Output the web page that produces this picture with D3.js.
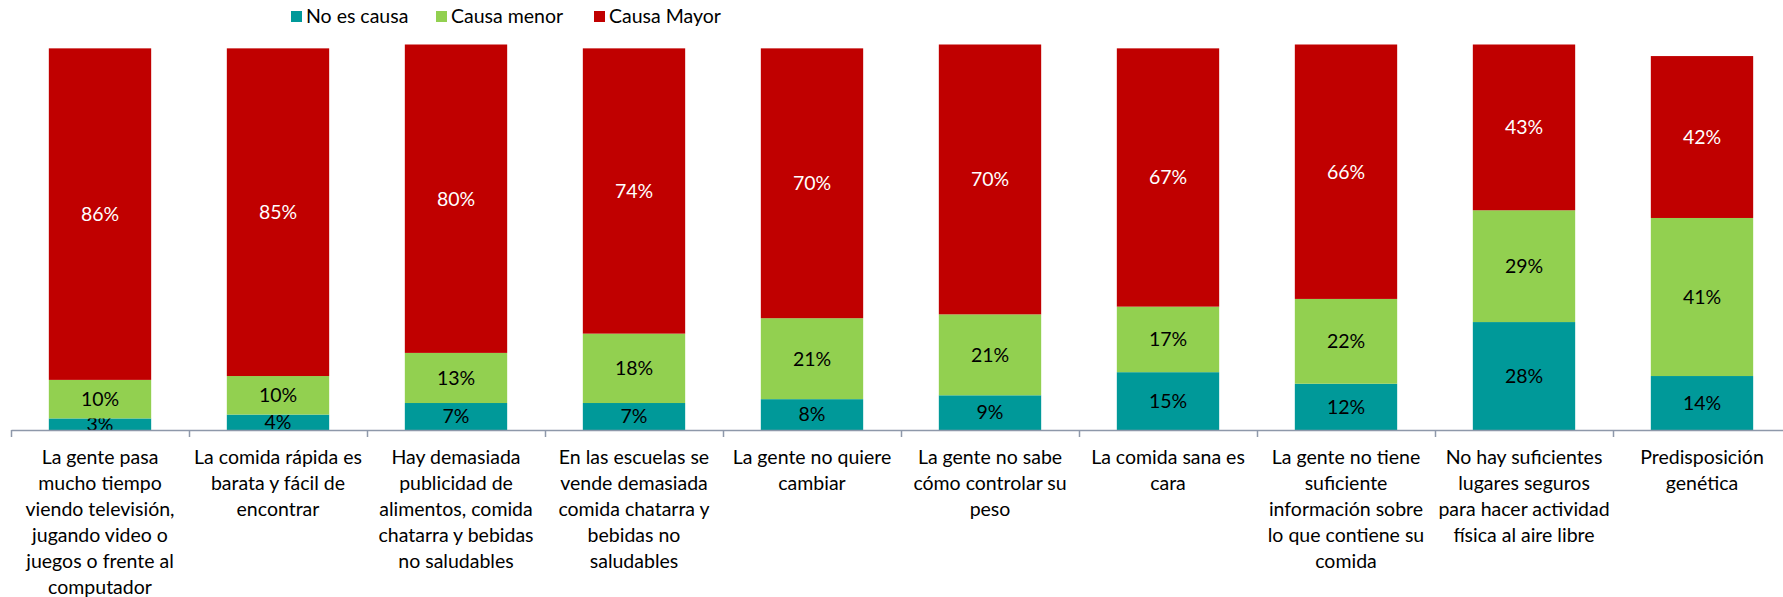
<!DOCTYPE html>
<html>
<head>
<meta charset="utf-8">
<script src="https://cdn.jsdelivr.net/npm/d3@7"></script>
<style>
  body { margin: 0; background: #fff; }
  svg { display: block; font-family: Lato, "Open Sans", sans-serif; }
</style>
</head>
<body>
<svg id="chart" width="1783" height="597"></svg>
<script>
// categories, line breaks as in the original labels
var categories = [
    "La gente pasa\nmucho tiempo\nviendo televisión,\njugando video o\njuegos o frente al\ncomputador",
    "La comida rápida es\nbarata y fácil de\nencontrar",
    "Hay demasiada\npublicidad de\nalimentos, comida\nchatarra y bebidas\nno saludables",
    "En las escuelas se\nvende demasiada\ncomida chatarra y\nbebidas no\nsaludables",
    "La gente no quiere\ncambiar",
    "La gente no sabe\ncómo controlar su\npeso",
    "La comida sana es\ncara",
    "La gente no tiene\nsuficiente\ninformación sobre\nlo que contiene su\ncomida",
    "No hay suficientes\nlugares seguros\npara hacer actividad\nfísica al aire libre",
    "Predisposición\ngenética"
];

var seriesNames = ["No es causa", "Causa menor", "Causa Mayor"];
var noEsCausa   = [3, 4, 7, 7, 8, 9, 15, 12, 28, 14];
var causaMenor  = [10, 10, 13, 18, 21, 21, 17, 22, 29, 41];
var causaMayor  = [86, 85, 80, 74, 70, 70, 67, 66, 43, 42];

var colors = ["#009999", "#92d050", "#c00000"];
var labelColors = ["#000", "#000", "#fff"];

var rows = categories.map(function(c, i) {
    return { cat: c, s0: noEsCausa[i], s1: causaMenor[i], s2: causaMayor[i] };
});

var svg = d3.select("#chart");

var left = 11, step = 178, n = categories.length;
var baseY = 430, topY = 44.5;

var x = d3.scaleBand()
    .domain(d3.range(n))
    .range([left, left + step * n])
    .paddingInner(0.425)
    .paddingOuter(0.2125);

var y = d3.scaleLinear().domain([0, 100]).range([baseY, topY]);

var stack = d3.stack().keys(["s0", "s1", "s2"]);
var layers = stack(rows);

var g = svg.append("g");

layers.forEach(function(layer, k) {
    var lg = g.append("g");
    lg.selectAll("rect")
        .data(layer)
        .enter().append("rect")
        .attr("x", function(d, i) { return x(i); })
        .attr("y", function(d) { return y(d[1]); })
        .attr("width", x.bandwidth())
        .attr("height", function(d) { return y(d[0]) - y(d[1]); })
        .attr("fill", colors[k]);

    lg.selectAll("text")
        .data(layer)
        .enter().append("text")
        .attr("x", function(d, i) { return x(i) + x.bandwidth() / 2; })
        .attr("y", function(d) { return (y(d[0]) + y(d[1])) / 2; })
        .attr("dy", "0.35em")
        .attr("text-anchor", "middle")
        .attr("font-size", 19.5)
        .attr("fill", labelColors[k])
        .text(function(d) { return (d[1] - d[0]) + "%"; });
});

// category axis, ticks between categories
var xb = d3.scaleLinear().domain([0, n]).range([left, left + step * n]);
var axis = svg.append("g")
    .attr("transform", "translate(0," + baseY + ")")
    .call(d3.axisBottom(xb).ticks(n).tickSize(7).tickSizeOuter(0).tickFormat(""));
axis.selectAll("path, line").attr("stroke", "#8e98aa").attr("stroke-width", 1.5);

// multi-line category labels
var labels = svg.append("g");
categories.forEach(function(c, i) {
    var t = labels.append("text")
        .attr("text-anchor", "middle")
        .attr("font-size", 19.5)
        .attr("fill", "#000");
    c.split("\n").forEach(function(line, j) {
        t.append("tspan")
            .attr("x", x(i) + x.bandwidth() / 2)
            .attr("y", 463.5 + j * 26.1)
            .text(line);
    });
});

// legend
var legendX = [291, 436, 594];
var legend = svg.append("g");
seriesNames.forEach(function(s, k) {
    legend.append("rect")
        .attr("x", legendX[k]).attr("y", 11)
        .attr("width", 11).attr("height", 11)
        .attr("fill", colors[k]);
    legend.append("text")
        .attr("x", legendX[k] + 15).attr("y", 16.5)
        .attr("dy", "0.35em")
        .attr("font-size", 19.5)
        .text(s);
});
</script>
</body>
</html>
